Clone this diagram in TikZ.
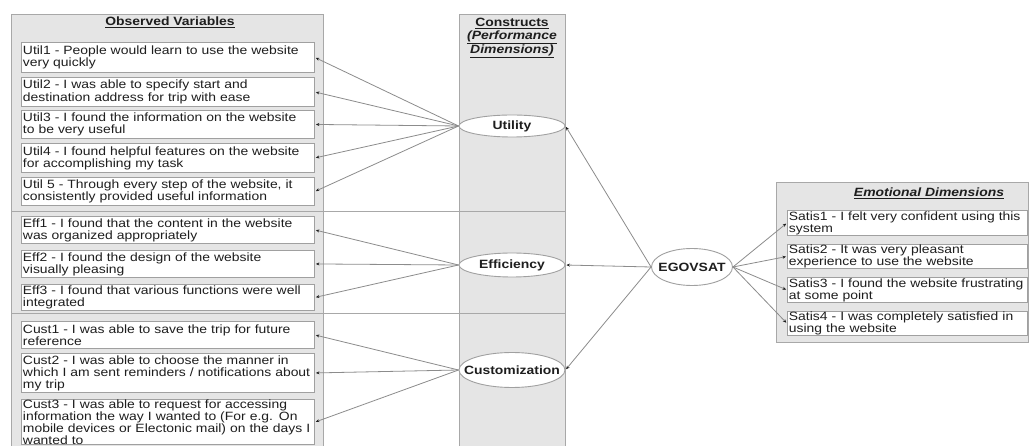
\documentclass[tikz,border=0pt]{standalone}
\usepackage{fontspec}
\setmainfont{Liberation Sans}[FakeStretch=1.16]
\usetikzlibrary{shapes.geometric,arrows.meta}
\definecolor{panelfill}{HTML}{E5E5E5}
\definecolor{panelline}{HTML}{A8A8A8}
\definecolor{boxline}{HTML}{A0A0A0}
\definecolor{linkgray}{HTML}{8C8C8C}
\definecolor{tipcol}{HTML}{1E1E1E}
\definecolor{txt}{HTML}{1E1E1E}
\newcommand{\zw}[1]{\makebox[0pt][c]{#1}}
\begin{document}
\begin{tikzpicture}[x=1pt,y=-1pt,
  panel/.style={fill=panelfill,draw=panelline,line width=1pt},
  sep/.style={draw=panelline,line width=1pt},
  item/.style={draw=boxline,fill=white,line width=0.9pt,anchor=north west,
    text width=290pt,inner xsep=1.5pt,inner ysep=0pt,align=left,
    font=\fontsize{12}{12}\selectfont,text=txt},
  sitem/.style={item,text width=237pt},
  construct/.style={ellipse,draw=boxline,fill=white,line width=0.9pt,inner sep=0pt,
    minimum width=106pt,font=\bfseries\fontsize{12}{12}\selectfont,text=txt},
  title/.style={font=\bfseries\fontsize{12}{12.5}\selectfont,text=txt,align=center,inner sep=0pt},
  link/.style={draw=linkgray,line width=0.8pt,shorten >=1pt,
    -{Stealth[length=3.5pt,width=3pt,color=tipcol]}}]
\useasboundingbox (0,0) rectangle (1029,446);
\clip (0,0) rectangle (1029,446);
\fill[white] (0,0) rectangle (1029,446);
% panels
\draw[panel] (11,15) rectangle (323,452);
\draw[panel] (459,15) rectangle (565,452);
\draw[panel] (776,183) rectangle (1028,343);
\draw[sep] (11,212) -- (565,212);
\draw[sep] (11,314) -- (565,314);
% titles
\node[title] (tobs) at (170,22) {\underline{Observed Variables}};
\node[title] (tcon) at (512,38) {\underline{Constructs}\\\underline{\itshape(Performance}\\\underline{\itshape Dimensions)}};
\node[title] (temo) at (929,193) {\underline{\itshape Emotional Dimensions}};
% observed variables
\node[item,minimum height=30pt] (u1) at (21,42) {Util1 - People would learn to use the website\\very quickly};
\node[item,minimum height=29pt,font=\fontsize{12}{10.8}\selectfont] (u2) at (21,77) {Util2 - I was able to specify start and\\destination address for trip with ease};
\node[item,minimum height=28pt] (u3) at (21,110) {Util3 - I found the information on the website\\to be very useful};
\node[item,minimum height=29pt] (u4) at (21,143) {Util4 - I found helpful features on the website\\for accomplishing my task};
\node[item,minimum height=28pt] (u5) at (21,177) {Util 5 - Through every step of the website, it\\consistently provided useful information};
\node[item,minimum height=27pt] (e1) at (21,216) {Eff1 - I found that the content in the website\\was organized appropriately};
\node[item,minimum height=27pt] (e2) at (21,250) {Eff2 - I found the design of the website\\visually pleasing};
\node[item,minimum height=26pt] (e3) at (21,284) {Eff3 - I found that various functions were well\\integrated};
\node[item,minimum height=27pt] (c1) at (21,321) {Cust1 - I was able to save the trip for future\\reference};
\node[item,minimum height=39pt] (c2) at (21,353) {Cust2 - I was able to choose the manner in\\which I am sent reminders / notifications about\\my trip};
\node[item,minimum height=45pt,font=\fontsize{12}{10.4}\selectfont] (c3) at (21,399) {Cust3 - I was able to request for accessing\\information the way I wanted to (For e.g. On\\mobile devices or Electonic mail) on the days I\\wanted to};
% constructs
\node[construct,minimum height=22pt] (util) at (512,126) {\zw{Utility}};
\node[construct,minimum height=24pt] (eff) at (512,265) {\zw{Efficiency}};
\node[construct,minimum height=35pt] (cust) at (512,370) {\zw{Customization}};
\node[construct,minimum width=81pt,minimum height=37pt] (egov) at (692,267) {\zw{EGOVSAT}};
% emotional items
\node[sitem,minimum height=25pt] (s1) at (787,210) {Satis1 - I felt very confident using this\\system};
\node[sitem,minimum height=24pt] (s2) at (787,244) {Satis2 - It was very pleasant\\experience to use the website};
\node[sitem,minimum height=25pt] (s3) at (787,277) {Satis3 - I found the website frustrating\\at some point};
\node[sitem,minimum height=24pt] (s4) at (787,311) {Satis4 - I was completely satisfied in\\using the website};
% links
\foreach \b in {u1,u2,u3,u4,u5} \draw[link] (util.west) -- (\b.east);
\foreach \b in {e1,e2,e3} \draw[link] (eff.west) -- (\b.east);
\foreach \b in {c1,c2,c3} \draw[link] (cust.west) -- (\b.east);
\foreach \b in {util,eff,cust} \draw[link] (egov.west) -- (\b.east);
\foreach \b in {s1,s2,s3,s4} \draw[link] (egov.east) -- (\b.west);
\end{tikzpicture}
\end{document}
